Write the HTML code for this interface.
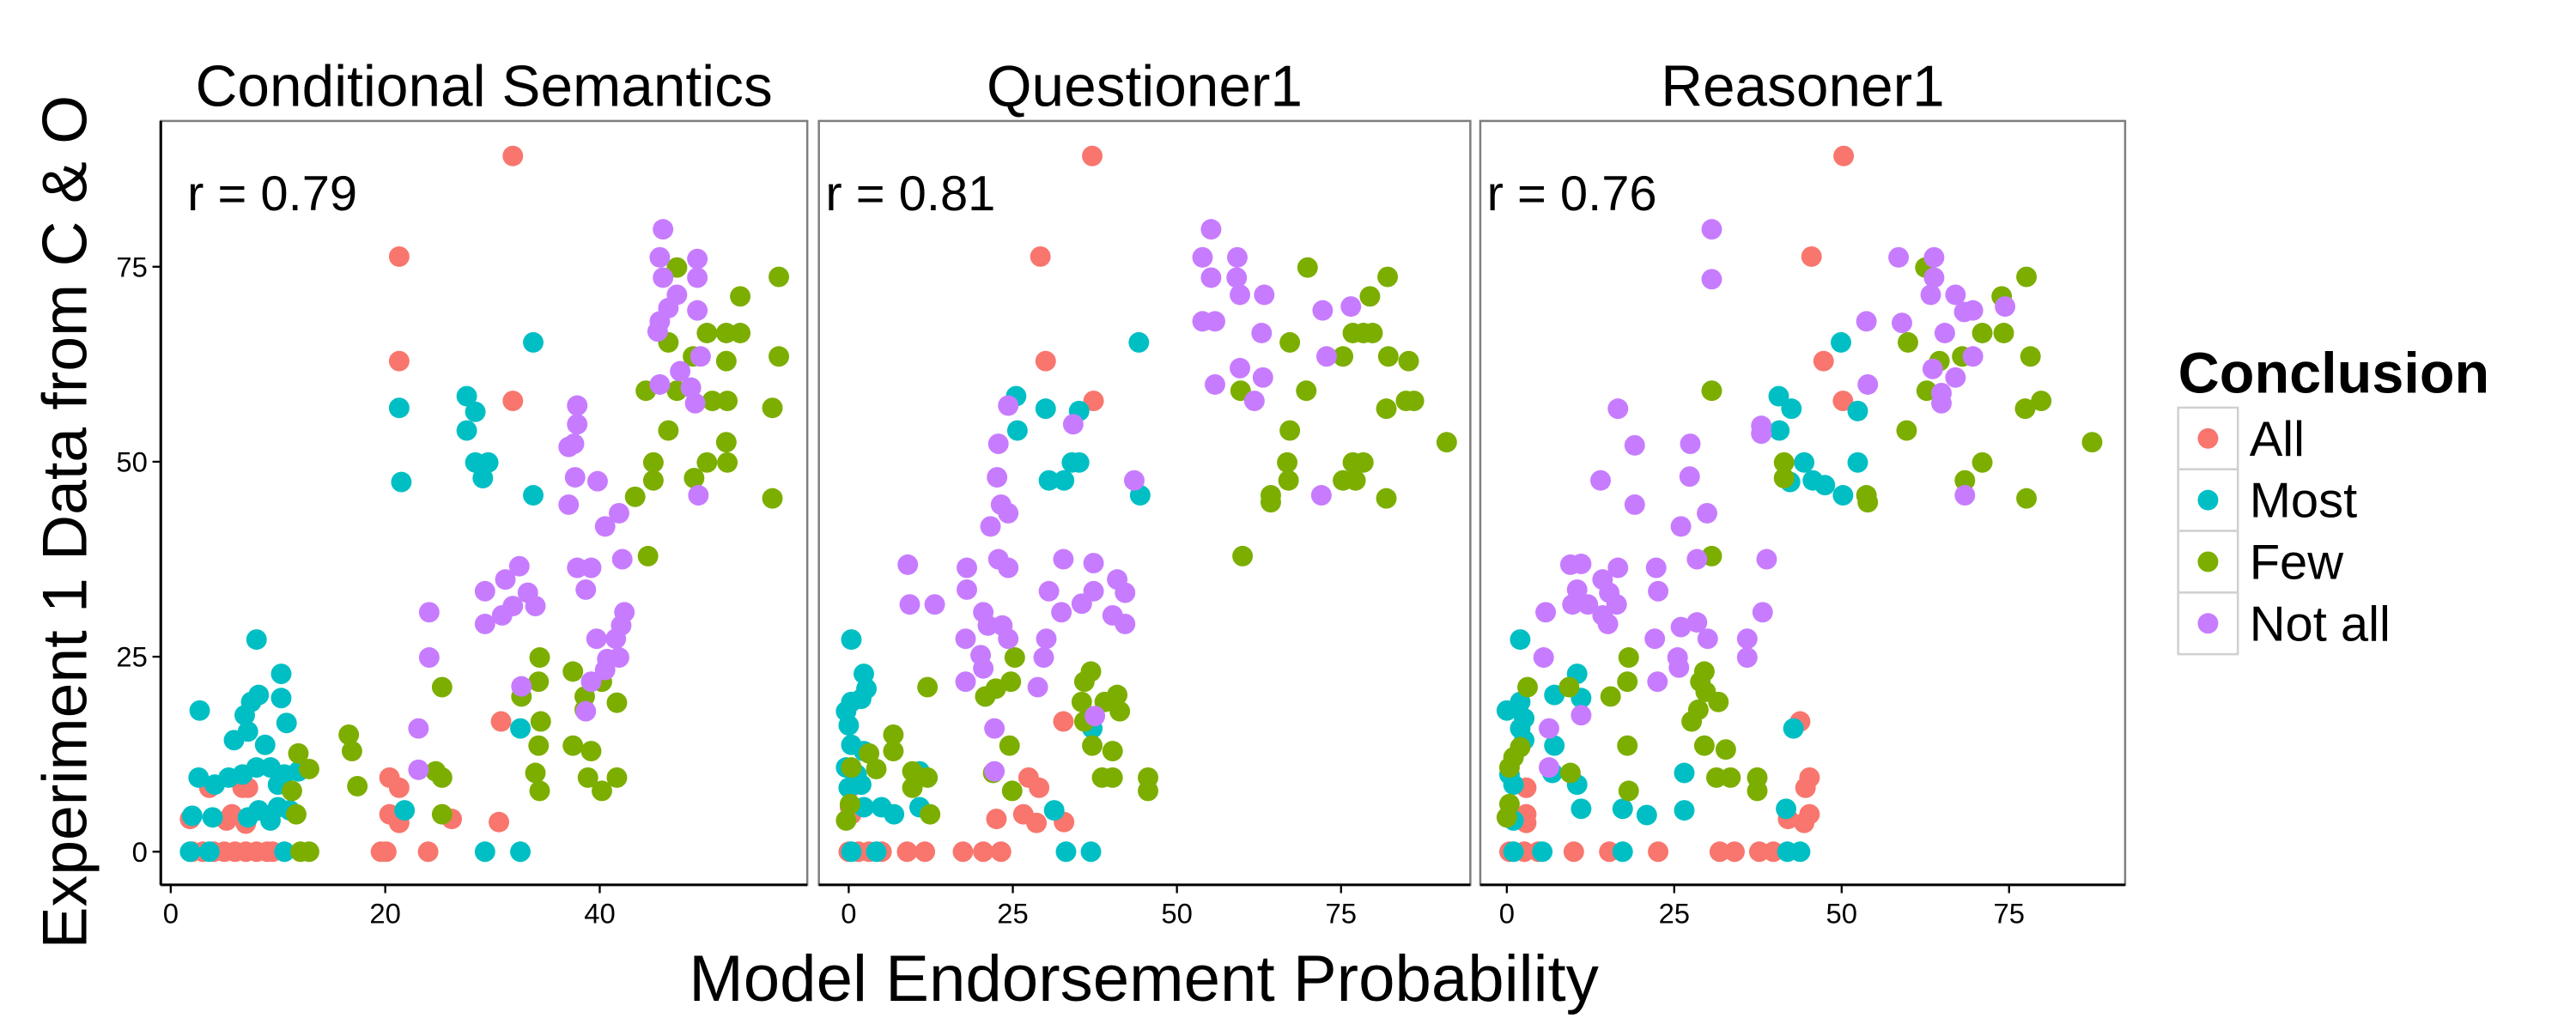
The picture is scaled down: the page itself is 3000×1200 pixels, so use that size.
<!DOCTYPE html>
<html><head><meta charset="utf-8"><style>html,body{margin:0;padding:0;background:#fff}svg{display:block}text{font-family:"Liberation Sans",Arial,sans-serif}</style></head>
<body>
<svg id="chart" width="3000" height="1200" viewBox="0 0 1554 621.6" preserveAspectRatio="none" xmlns="http://www.w3.org/2000/svg">
<rect x="0" y="0" width="1554" height="621.6" fill="#fff"/>
<g id="panels"></g>
<text transform="translate(52,315) rotate(-90)" text-anchor="middle" font-size="38">Experiment 1 Data from C &amp; O</text>
<text x="690" y="604" text-anchor="middle" font-size="39.5">Model Endorsement Probability</text>
<g id="legend">
<text x="1314" y="237" font-size="34.5" font-weight="bold">Conclusion</text>
</g>
</svg>
<script>
const conclusions = ["All","Most","Few","Not all"];
const colors = ["#F8766D","#00BFC4","#7CAE00","#C77CFF"];
const panelTitles = ["Conditional Semantics","Questioner1","Reasoner1"];
const rLabels = ["r = 0.79","r = 0.81","r = 0.76"];
const yTicks = [0,25,50,75];
const xTicks1 = [0,20,40];
const xTicks2 = [0,25,50,75];
const xTicks3 = [0,25,50,75];

const csAll = [[31.9,89.2],[21.3,76.3],[21.3,62.9],[31.9,57.8],[30.8,16.7],[30.6,3.8],[20.4,9.5],[21.3,8.2],[20.4,4.8],[21.3,3.7],[26.2,4.2],[19.6,0],[20.1,0],[24,0],[2,0],[3,0],[4,0],[5,0],[6,0],[7,0],[8,0],[9,0],[9.5,0],[1.8,4.2],[3.6,8.2],[5.2,4],[5.7,4.8],[6.7,8.2],[7,3.6],[7.2,8.2]];
const csMost = [[33.8,65.3],[21.3,56.9],[21.5,47.4],[27.6,58.4],[28.4,56.4],[27.6,54],[28.4,49.9],[29.6,49.9],[29.1,47.9],[33.8,45.7],[32.6,15.8],[29.3,0],[32.6,0],[21.8,5.3],[2.7,18.1],[8,27.2],[10.3,22.8],[10.3,19.7],[10.8,16.5],[8.2,20.1],[7.5,19.2],[6.9,17.5],[5.9,14.3],[7.2,15.4],[8.8,13.7],[2.6,9.5],[4.1,8.6],[5.4,9.5],[6.7,9.9],[8,10.8],[9.3,10.8],[10,8.6],[11.9,10.3],[10.6,9.9],[2,4.6],[3.9,4.4],[8.2,5.3],[9.3,4],[10,5.7],[11.1,5.3],[1.8,0],[3.6,0],[10.6,0],[7.2,4.4]];
const csFew = [[47.2,74.9],[56.7,73.7],[53.1,71.2],[50,66.5],[51.8,66.5],[53.1,66.5],[46.4,65.3],[48.7,63.5],[51.8,62.9],[56.7,63.5],[44.3,59.1],[47.2,59.1],[50.5,57.8],[51.9,57.8],[56.1,56.9],[46.4,54],[51.8,52.5],[45,49.9],[50,49.9],[51.9,49.9],[45,47.6],[48.8,47.9],[43.3,45.5],[56.1,45.3],[44.5,37.9],[34.4,24.9],[34.3,21.8],[32.7,19.9],[34.5,16.7],[34.3,13.6],[34,10.1],[34.4,7.8],[37.5,23.1],[40.2,21.8],[38.6,19.9],[41.6,19.1],[38.6,18.2],[37.5,13.6],[39.2,12.9],[38.9,9.5],[40.2,7.8],[41.6,9.5],[25.3,21.1],[24.7,10.3],[25.3,9.5],[25.3,4.8],[16.6,15],[16.9,12.9],[17.4,8.4],[11.9,12.6],[12.9,10.6],[11.7,4.8],[12.1,0],[12.9,0],[11.3,7.8]];
const csNotAll = [[45.9,79.8],[45.6,76.2],[49.1,76],[45.9,73.6],[49.1,73.6],[47.2,71.4],[46.4,69.7],[49.1,69.4],[45.6,68],[45.4,66.7],[49.4,63.5],[47.5,61.6],[45.6,59.9],[48.5,59.5],[48.9,57.5],[49.2,45.7],[37.9,57.2],[37.9,54.8],[37.6,52.3],[37.1,51.9],[37.7,48],[39.8,47.5],[37.1,44.5],[41.8,43.4],[40.5,41.7],[42.1,37.5],[37.9,36.4],[39.2,36.4],[38.7,33.6],[42.3,30.7],[42,29],[41.5,27.3],[39.7,27.3],[40.7,24.7],[41.8,24.9],[40.5,23.3],[39.2,21.8],[38.7,18],[32.5,36.6],[31.2,34.9],[33.3,33.2],[29.3,33.4],[34,31.5],[31.9,31.5],[30.9,30.3],[29.3,29.2],[24.1,30.7],[24.1,24.9],[23.1,15.8],[23.1,10.5],[32.7,21.2]];

const qAll = [[37.1,89.2],[29.2,76.3],[30,62.9],[37.3,57.8],[32.7,16.7],[27.4,9.5],[29,8.2],[26.6,4.8],[28.6,3.7],[32.8,3.8],[22.5,4.2],[0,0],[1.5,0],[3.1,0],[5,0],[8.9,0],[11.6,0],[17.4,0],[20.5,0],[23.2,0],[0.2,8.2],[0.4,4.8],[0.2,5.7]];
const qMost = [[44.2,65.3],[25.5,58.4],[30,56.8],[35.1,56.5],[25.7,54],[34,49.9],[35.1,49.9],[30.5,47.6],[32.8,47.6],[44.4,45.7],[37.1,15.8],[33.1,0],[36.9,0],[31.3,5.3],[0.4,27.2],[2.3,22.8],[2.7,20.9],[0.4,19.2],[-0.4,18],[1.9,19.6],[0,16.2],[0.4,13.7],[2.3,12.9],[-0.4,10.8],[1.2,9.9],[1.9,8.6],[0,8.2],[10.8,10.3],[10.8,5.7],[5,5.7],[6.9,4.8],[2.3,5.7],[0.4,0],[4.2,0]];
const qFew = [[69.9,74.9],[82.1,73.7],[79.4,71.2],[76.8,66.5],[78.4,66.5],[79.8,66.5],[67.2,65.3],[75.3,63.5],[82.2,63.5],[85.3,62.9],[59.7,59.1],[69.7,59.1],[81.9,56.8],[84.9,57.8],[86.1,57.8],[67.2,54],[91.1,52.5],[66.8,49.9],[76.8,49.9],[78.4,49.9],[67,47.6],[75.3,47.6],[77.2,47.6],[64.3,45.7],[64.3,44.8],[81.9,45.3],[60,37.9],[25.3,24.9],[24.7,21.8],[22.4,20.9],[20.8,19.9],[12,21.1],[35.9,21.8],[36.9,23.1],[35.5,19.2],[35.9,16.7],[40.9,20.1],[41.3,18],[39,19.2],[24.5,13.6],[37.1,13.6],[40.2,12.9],[22,10.1],[24.9,7.8],[38.6,9.5],[40.2,9.5],[45.6,9.5],[45.6,7.8],[6.8,15],[6.8,12.9],[9.7,10.3],[9.7,8.2],[12,9.5],[12.4,4.8],[3.1,12.6],[4.2,10.6],[0.4,10.8],[0.2,6.1],[-0.4,4]];
const qNotAll = [[55.2,79.8],[53.9,76.2],[59.2,76.2],[55.2,73.6],[59.1,73.6],[59.6,71.4],[63.3,71.4],[72.2,69.4],[76.5,69.9],[53.9,68],[55.8,68],[62.9,66.5],[72.8,63.5],[59.6,62],[63.1,60.8],[55.8,59.9],[61.8,57.8],[72,45.7],[43.5,47.6],[24.3,57.2],[34.2,54.8],[22.8,52.3],[22.6,48],[23.2,44.5],[24.3,43.4],[21.6,41.7],[9,36.8],[22.8,37.5],[24.3,36.4],[18,36.4],[32.7,37.5],[37.3,37],[30.5,33.4],[37.3,33.4],[40.9,34.9],[42.1,33.2],[18,33.6],[9.3,31.7],[13.1,31.7],[20.5,30.7],[32.4,30.7],[35.5,31.8],[40.2,30.3],[42.1,29.2],[21.2,29],[23.4,29],[24.3,27.3],[17.8,27.3],[30.1,27.3],[29.7,24.9],[20.1,25.2],[20.5,23.5],[17.8,21.8],[28.8,21.1],[22.2,15.8],[37.5,17.4],[22.2,10.3]];

const rAll = [[50.3,89.2],[45.5,76.3],[47.3,62.9],[50.2,57.8],[43.8,16.7],[45.2,9.5],[44.6,8.2],[45.2,4.8],[42,4.2],[44.4,3.7],[2.9,8.2],[2.9,4.8],[2.9,3.7],[0.4,0],[2.6,0],[4.7,0],[10,0],[15.3,0],[22.6,0],[31.8,0],[34,0],[37.7,0],[39.8,0]];
const rMost = [[49.9,65.3],[40.6,58.4],[42.5,56.8],[52.4,56.5],[40.7,54],[44.4,49.9],[52.4,49.9],[42.3,47.4],[45.7,47.6],[47.5,47],[50.2,45.7],[42.8,15.8],[41.9,0],[43.8,0],[41.7,5.5],[2,27.2],[10.5,22.8],[11.1,19.7],[7.1,20.1],[0,18.1],[2,19.2],[2.6,17.1],[2,15.8],[2.6,14.3],[7.1,13.6],[6.8,10.1],[10.5,8.6],[11.1,5.5],[17.3,5.5],[20.9,4.7],[26.5,10.1],[26.5,5.3],[0.4,9.9],[1,8.6],[1,4],[17.3,0],[1,0],[5.3,0]];
const rFew = [[62.5,74.9],[77.6,73.7],[73.9,71.2],[71,66.5],[74.2,66.5],[59.9,65.3],[64.6,62.9],[68,63.5],[78.2,63.5],[30.6,59.1],[62.7,59.1],[77.4,56.8],[79.8,57.8],[59.7,54],[87.4,52.5],[41.4,49.9],[71,49.9],[41.4,47.9],[68.4,47.6],[53.7,45.7],[53.9,44.8],[77.6,45.3],[30.6,37.9],[18.2,24.9],[18,21.8],[15.5,19.9],[9.3,21.1],[3.1,21.1],[29.5,23.1],[28.9,21.8],[31.6,19.2],[29.7,20.5],[28.6,18.2],[27.6,16.7],[18,13.6],[29.5,13.6],[32.7,13.1],[9.5,10.1],[18.2,7.8],[31.3,9.5],[33.4,9.5],[37.4,9.5],[37.4,7.8],[2,13.4],[1,12.1],[0.4,10.8],[0.4,6.1],[0,4.4]];
const rNotAll = [[30.6,79.8],[30.6,73.4],[58.5,76.2],[63.8,76.2],[63.8,73.6],[63.3,71.4],[67,71.4],[69.6,69.4],[68.3,69.2],[74.4,69.9],[53.7,68],[59,67.8],[65.4,66.5],[69.6,63.5],[63.6,61.9],[67,60.8],[53.9,59.9],[64.9,58.8],[64.9,57.5],[68.4,45.7],[38,54.6],[38,53.6],[16.6,56.8],[19.1,52.1],[27.4,52.3],[14,47.6],[27.3,48.1],[19.1,44.5],[29.9,43.4],[26,41.7],[38.8,37.5],[28.4,37.5],[9.5,36.8],[11.1,36.9],[16.6,36.4],[22.3,36.4],[10.5,33.6],[14.3,34.9],[15.3,33.2],[22.6,33.4],[9.8,31.7],[12.1,31.7],[16.4,31.7],[5.8,30.7],[14.3,30.3],[15.1,29.2],[38.2,30.7],[26,28.8],[28.4,29.4],[22.1,27.3],[30,27.3],[35.9,27.3],[25.5,24.9],[35.9,24.9],[5.5,24.9],[25.7,23.6],[22.5,21.8],[11.1,17.5],[6.3,15.8],[6.3,10.8]];

const panelData = [[csAll,csMost,csFew,csNotAll],[qAll,qMost,qFew,qNotAll],[rAll,rMost,rFew,rNotAll]];
const panelXTicks = [xTicks1,xTicks2,xTicks3];

const NS = "http://www.w3.org/2000/svg";
const panelsG = document.getElementById("panels");
const frames = [{l:97,r:487,x0:103,k:6.47},{l:494,r:887,x0:512,k:3.96},{l:893,r:1282,x0:909,k:4.04}];
const pTop = 73, pBottom = 534;
function yScale(v){ return 514 - v*4.707; }
function mk(tag, attrs, parent){ const e=document.createElementNS(NS,tag); for(const k in attrs) e.setAttribute(k,attrs[k]); parent.appendChild(e); return e; }

frames.forEach((f,pi)=>{
  const xScale = v => f.x0 + v*f.k;
  const g = mk("g",{},panelsG);
  
  
  const border = mk("rect",{x:f.l,y:pTop,width:f.r-f.l,height:pBottom-pTop,fill:"#fff",stroke:"#7f7f7f","stroke-width":1.3},g);
  
  
  const xAxis = mk("line",{x1:f.l,x2:f.r,y1:pBottom,y2:pBottom,stroke:"#000","stroke-width":1.6},g);
  
  
  if(pi===0){
    const yAxis = mk("line",{x1:f.l,x2:f.l,y1:pTop,y2:pBottom,stroke:"#000","stroke-width":1.6},g);
    
    
    yTicks.forEach(t=>{
      const tl = mk("line",{x1:f.l-5,x2:f.l,y1:yScale(t),y2:yScale(t),stroke:"#000","stroke-width":1.2},g);
      
      
      const tx = mk("text",{x:f.l-8,y:yScale(t)+6,"text-anchor":"end","font-size":17},g);
      
      
      tx.textContent = t;
    });
  }
  panelXTicks[pi].forEach(t=>{
    const tl = mk("line",{x1:xScale(t),x2:xScale(t),y1:pBottom,y2:pBottom+5,stroke:"#000","stroke-width":1.2},g);
    
    
    const tx = mk("text",{x:xScale(t),y:pBottom+23,"text-anchor":"middle","font-size":17},g);
    
    
    tx.textContent = t;
  });
  const title = mk("text",{x:(f.l+f.r)/2,y:64,"text-anchor":"middle","font-size":35},g);
  
  
  title.textContent = panelTitles[pi];
  const rl = mk("text",{x:f.l+(pi===0?16:4),y:127,"font-size":30},g);
  
  
  rl.textContent = rLabels[pi];
  panelData[pi].forEach((series,ci)=>{
    series.forEach(p=>{
      const c = mk("circle",{cx:xScale(p[0]),cy:yScale(p[1]),r:6.2,fill:colors[ci]},g);
      
      
    });
  });
});

const legend = document.getElementById("legend");
conclusions.forEach((c,i)=>{
  const y0 = 246 + i*37.2;
  const box = mk("rect",{x:1314,y:y0,width:36,height:37.2,fill:"#fff",stroke:"#d0d0d0","stroke-width":1.3},legend);
  
  
  const dot = mk("circle",{cx:1332,cy:y0+18.6,r:6.2,fill:colors[i]},legend);
  
  
  const t = mk("text",{x:1357,y:y0+29,"font-size":30},legend);
  
  
  t.textContent = c;
});
</script>
</body></html>
